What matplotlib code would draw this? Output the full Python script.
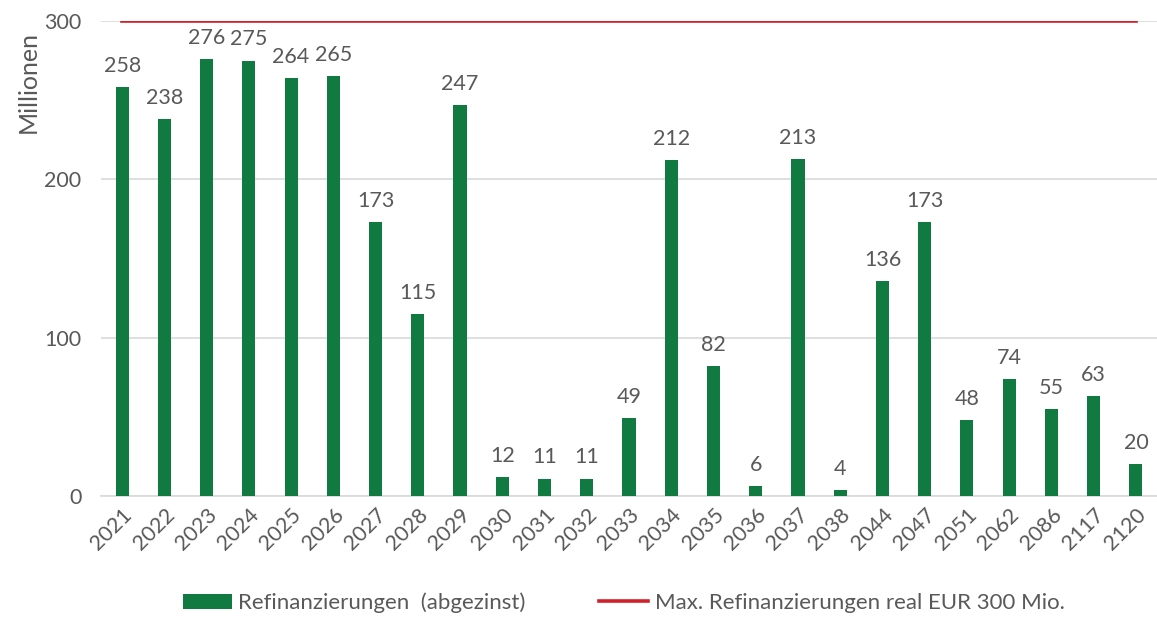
import matplotlib
matplotlib.use("Agg")
import matplotlib.pyplot as plt
import numpy as np

years = ["2021","2022","2023","2024","2025","2026","2027","2028","2029","2030",
         "2031","2032","2033","2034","2035","2036","2037","2038","2044","2047",
         "2051","2062","2086","2117","2120"]
values = [258,238,276,275,264,265,173,115,247,12,11,11,49,212,82,6,213,4,136,173,48,74,55,63,20]
max_line = [300]*len(years)

plt.rcParams['font.family'] = ['Lato', 'DejaVu Sans']
txt = '#595959'
green = '#107A40'
red = '#D0202A'

fig = plt.figure(figsize=(11.57, 6.28), dpi=100)
ax = fig.add_axes([0.0873, 0.2102, 0.9127, 0.7564])
x = np.arange(len(years))
bars = ax.bar(x, values, width=0.31, color=green, label='Refinanzierungen  (abgezinst)', zorder=3)
line, = ax.plot(x, max_line, color=red, lw=2.6, label='Max. Refinanzierungen real EUR 300 Mio.', zorder=4)
for xi, v in zip(x, values):
    ax.text(xi, v + 7, str(v), ha='center', va='bottom', fontsize=15.5, color=txt)

ax.set_xlim(-0.5, len(years) - 0.5)
ax.set_ylim(0, 300)
ax.set_yticks([0, 100, 200, 300])
ax.yaxis.grid(True, color='#D9D9D9', lw=1.2, zorder=0)
ax.set_axisbelow(True)
for s in ['top', 'right', 'left']:
    ax.spines[s].set_visible(False)
ax.spines['bottom'].set_color('#D9D9D9')
ax.spines['bottom'].set_linewidth(1.2)
ax.tick_params(axis='both', length=0, colors=txt, labelsize=15.5)
ax.tick_params(axis='y', pad=14)
ax.set_xticks(x)
ax.set_xticklabels(years, rotation=45, ha='right', rotation_mode='anchor')
ax.tick_params(axis='x', pad=6)

fig.text(0.024, 0.87, 'Millionen', rotation=90, ha='center', va='center', fontsize=18, color=txt)

leg = fig.legend([bars, line], [bars.get_label(), line.get_label()],
                 loc='center', bbox_to_anchor=(0.539, 0.04), ncol=2, frameon=False,
                 fontsize=16, labelcolor=txt, handlelength=2.2, columnspacing=3.3, handletextpad=0.3)

fig.savefig('out.png', dpi=100)
